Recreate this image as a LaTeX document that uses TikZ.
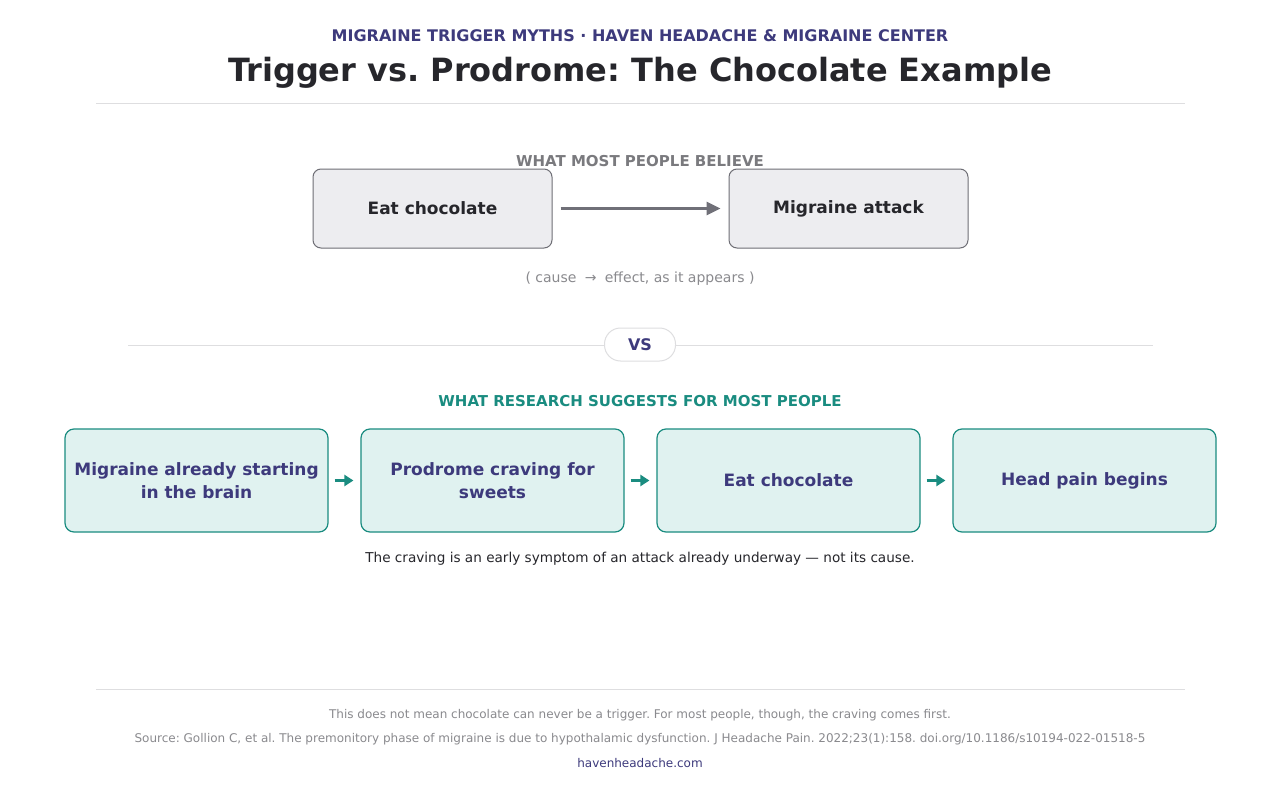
\documentclass[tikz,border=0pt]{standalone}
\usepackage{fontspec}
\setmainfont{DejaVu Sans}
\usetikzlibrary{arrows.meta}
\frenchspacing
\definecolor{cpurple}{HTML}{3D3A7C}
\definecolor{cdark}{HTML}{26262B}
\definecolor{cgray}{HTML}{7A7A7E}
\definecolor{clgray}{HTML}{8A8A8E}
\definecolor{cline}{HTML}{DEDEE0}
\definecolor{cbox}{HTML}{EDEDF0}
\definecolor{cboxb}{HTML}{6E6E75}
\definecolor{cteal}{HTML}{1A8C80}
\definecolor{ctealf}{HTML}{E0F2F0}
\definecolor{carrow}{HTML}{707078}
\newcommand{\fs}[1]{\fontsize{#1}{20}\selectfont}
\tikzset{
  x=1pt,y=-1pt,
  believebox/.style={draw=cboxb,fill=cbox,line width=1pt,rounded corners=8pt,minimum width=239pt,minimum height=79pt,inner sep=0pt,font=\fs{17}\bfseries,text=cdark},
  researchbox/.style={draw=cteal,fill=ctealf,line width=1.2pt,rounded corners=9pt,minimum width=263pt,minimum height=103pt,inner sep=0pt,align=center,font=\fontsize{17}{23}\selectfont\bfseries,text=cpurple},
  tealarrow/.style={draw=cteal,line width=3pt,-{Triangle[length=9pt,width=11pt]}},
  sepline/.style={draw=cline,line width=1pt},
}
\begin{document}
\begin{tikzpicture}
\useasboundingbox (0,0) rectangle (1280,800);
\fill[white] (0,0) rectangle (1280,800);
% header
\node[font=\fs{16}\bfseries,text=cpurple] (sub) at (640,35.5) {MIGRAINE TRIGGER MYTHS · HAVEN HEADACHE \& MIGRAINE CENTER};
\node[font=\fs{32}\bfseries,text=cdark] (title) at (640,73) {Trigger vs. Prodrome: The Chocolate Example};
\coordinate (h1) at (96,103); \coordinate (h2) at (1185,103);
\draw[sepline] (h1) -- (h2);
% belief
\node[font=\fs{15}\bfseries,text=cgray] (believe) at (640,161) {WHAT MOST PEOPLE BELIEVE};
\node[believebox] (eat1) at (432.5,208.5) {Eat chocolate};
\node[believebox] (mig) at (848.5,208.5) {Migraine attack};
\draw[draw=carrow,line width=3pt,-{Triangle[length=14pt,width=13pt]},shorten <=8pt,shorten >=8pt] (eat1) -- (mig);
\node[font=\fs{14},text=clgray] (cause) at (640,279) {( cause \;→\; effect, as it appears )};
% vs
\coordinate (v1) at (128,345); \coordinate (v2) at (1153,345);
\draw[sepline] (v1) -- (v2);
\node[draw=cline,fill=white,line width=1pt,rounded corners=16pt,minimum width=71pt,minimum height=33pt,font=\fs{16}\bfseries,text=cpurple] (vs) at (640,344.5) {VS};
% research
\node[font=\fs{15}\bfseries,text=cteal] (research) at (640,401) {WHAT RESEARCH SUGGESTS FOR MOST PEOPLE};
\node[researchbox] (b1) at (196.5,480.5) {Migraine already starting\\in the brain};
\node[researchbox] (b2) at (492.5,480.5) {Prodrome craving for\\sweets};
\node[researchbox] (b3) at (788.5,480.5) {Eat chocolate};
\node[researchbox] (b4) at (1084.5,480.5) {Head pain begins};
\draw[tealarrow,shorten <=6pt,shorten >=7pt] (b1) -- (b2);
\draw[tealarrow,shorten <=6pt,shorten >=7pt] (b2) -- (b3);
\draw[tealarrow,shorten <=6pt,shorten >=7pt] (b3) -- (b4);
\node[font=\fs{13.6},text=cdark] (craving) at (640,559) {The craving is an early symptom of an attack already underway — not its cause.};
% footer
\coordinate (f1) at (96,689); \coordinate (f2) at (1185,689);
\draw[sepline] (f1) -- (f2);
\node[font=\fs{12},text=clgray] (note) at (640,715) {This does not mean chocolate can never be a trigger. For most people, though, the craving comes first.};
\node[font=\fs{12},text=clgray] (source) at (640,739) {Source: Gollion C, et al. The premonitory phase of migraine is due to hypothalamic dysfunction. J Headache Pain. 2022;23(1):158. doi.org/10.1186/s10194-022-01518-5};
\node[font=\fs{12},text=cpurple] (site) at (640,763) {havenheadache.com};
\end{tikzpicture}
\end{document}
